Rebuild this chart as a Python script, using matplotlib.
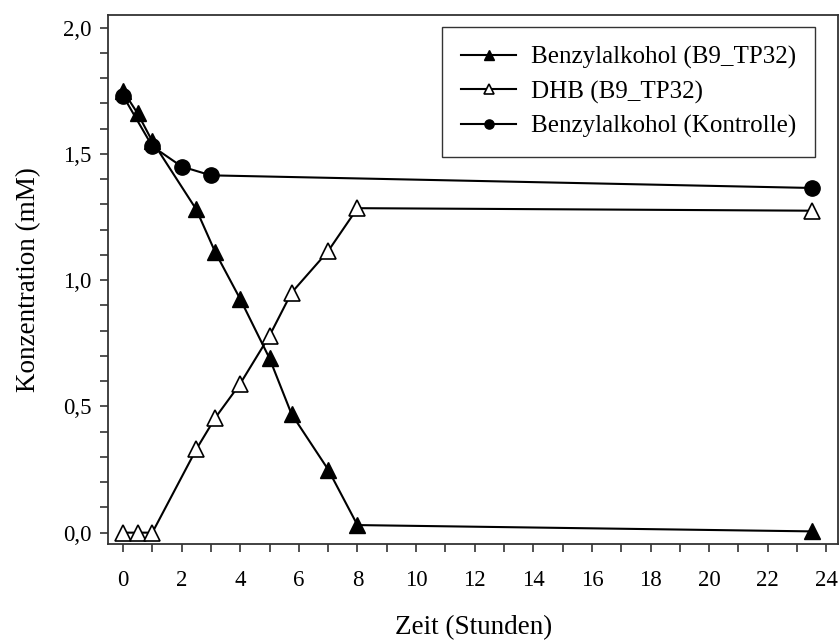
import numpy as np
import matplotlib.pyplot as plt
from matplotlib.ticker import MultipleLocator, FuncFormatter

plt.rcParams['font.family'] = ['Liberation Serif', 'DejaVu Serif']

# Zeitpunkte (Stunden) und Konzentrationen (mM)
t_b9 = [0, 0.5, 1, 2.5, 3.15, 4, 5, 5.75, 7, 8, 23.5]
benzyl_b9 = [1.75, 1.66, 1.55, 1.28, 1.11, 0.925, 0.69, 0.47, 0.25, 0.03, 0.005]
dhb_b9 = [0.0, 0.0, 0.0, 0.33, 0.455, 0.59, 0.78, 0.95, 1.115, 1.285, 1.275]

t_ctrl = [0, 1, 2, 3, 23.5]
benzyl_ctrl = [1.73, 1.53, 1.45, 1.415, 1.365]

fig = plt.figure(figsize=(8.4, 6.41), dpi=100)
ax = fig.add_axes([0.129, 0.1513, 0.8687, 0.8253])

lw = 1.5
ax.plot(t_b9, benzyl_b9, '-^', color='black', lw=lw, ms=11,
        mfc='black', mec='black', label='Benzylalkohol (B9_TP32)', zorder=3)
ax.plot(t_b9, dhb_b9, '-^', color='black', lw=lw, ms=11,
        mfc='white', mec='black', mew=1.2, label='DHB (B9_TP32)', zorder=3)
ax.plot(t_ctrl, benzyl_ctrl, '-o', color='black', lw=lw, ms=11,
        mfc='black', mec='black', label='Benzylalkohol (Kontrolle)', zorder=4)

ax.set_xlim(-0.5, 24.4)
ax.set_ylim(-0.045, 2.05)

ax.xaxis.set_major_locator(MultipleLocator(2))
ax.xaxis.set_minor_locator(MultipleLocator(1))
ax.yaxis.set_major_locator(MultipleLocator(0.5))
ax.yaxis.set_minor_locator(MultipleLocator(0.1))
ax.yaxis.set_major_formatter(FuncFormatter(lambda v, p: f'{v:.1f}'.replace('.', ',')))

for s in ax.spines.values():
    s.set_color('#333333')
    s.set_linewidth(1.3)

ax.tick_params(which='both', direction='out', length=6, width=1.2,
               color='#333333', labelsize=16.5)
ax.tick_params(axis='x', which='both', pad=13)
ax.tick_params(axis='y', which='both', pad=6)

ax.set_xlabel('Zeit (Stunden)', fontsize=19.5, labelpad=17)
ax.set_ylabel('Konzentration (mM)', fontsize=19.5, labelpad=16)

leg = ax.legend(loc='upper right', bbox_to_anchor=(0.9685, 0.9767),
                borderaxespad=0, fontsize=18, markerscale=0.6,
                handlelength=2.2, handletextpad=0.6, labelspacing=0.45,
                borderpad=0.75, fancybox=False, framealpha=1)
leg.get_frame().set_edgecolor('#333333')
leg.get_frame().set_linewidth(1.0)

fig.savefig('out.png', dpi=100)
